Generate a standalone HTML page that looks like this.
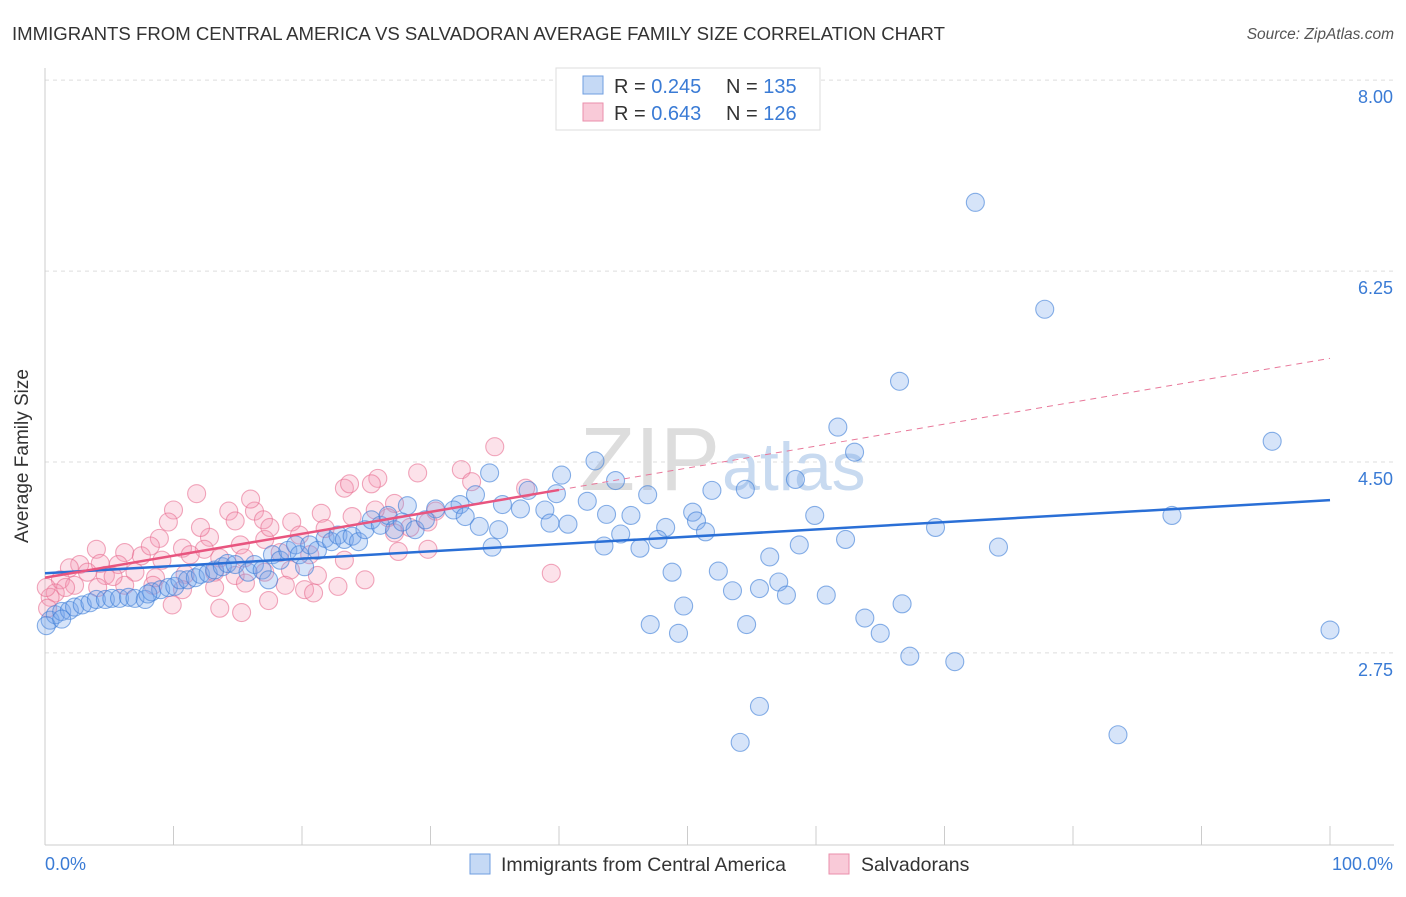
<!DOCTYPE html>
<html><head><meta charset="utf-8"><style>
body{margin:0;background:#fff;font-family:"Liberation Sans",sans-serif;}
svg text{font-family:"Liberation Sans",sans-serif;}
</style></head><body>
<svg width="1406" height="892">
<text x="12" y="40" font-size="18.6" fill="#333">IMMIGRANTS FROM CENTRAL AMERICA VS SALVADORAN AVERAGE FAMILY SIZE CORRELATION CHART</text>
<text x="1394" y="39" font-size="15.5" fill="#555" font-style="italic" text-anchor="end">Source: ZipAtlas.com</text>
<g id="grid"></g>
<text x="720" y="490" font-size="90" fill="#ddd" text-anchor="end" font-family="Liberation Serif">ZIP</text>
<text x="722" y="490" font-size="68" fill="#c8daf0">atlas</text>
<line x1="45" y1="68" x2="45" y2="845" stroke="#ccc"/>
<line x1="45" y1="845" x2="1394" y2="845" stroke="#ccc"/>
<g id="ticks"></g>
<g id="pts"></g>
<g id="lines"></g>
<text x="28" y="456" font-size="19" fill="#333" text-anchor="middle" transform="rotate(-90 28 456)">Average Family Size</text>
<text x="45" y="870" font-size="18" fill="#3a7bd5">0.0%</text>
<text x="1393" y="870" font-size="18" fill="#3a7bd5" text-anchor="end">100.0%</text>
<g>
<rect x="556" y="68" width="264" height="62" fill="#fff" stroke="#ddd"/>
<rect x="583" y="76" width="20" height="18" fill="#c5d9f5" stroke="#6f9ee0"/>
<rect x="583" y="103" width="20" height="18" fill="#f9cad8" stroke="#ea8fab"/>
<text x="614" y="93" font-size="20" fill="#333">R = <tspan fill="#3a7bd5">0.245</tspan></text>
<text x="726" y="93" font-size="20" fill="#333">N = <tspan fill="#3a7bd5">135</tspan></text>
<text x="614" y="120" font-size="20" fill="#333">R = <tspan fill="#3a7bd5">0.643</tspan></text>
<text x="726" y="120" font-size="20" fill="#333">N = <tspan fill="#3a7bd5">126</tspan></text>
</g>
<g>
<rect x="470" y="854" width="20" height="20" fill="#c5d9f5" stroke="#6f9ee0"/>
<text x="501" y="871" font-size="19.5" fill="#333">Immigrants from Central America</text>
<rect x="829" y="854" width="20" height="20" fill="#f9cad8" stroke="#ea8fab"/>
<text x="861" y="871" font-size="19.5" fill="#333">Salvadorans</text>
</g>
</svg>
<script>
const yTicks=[8.00,6.25,4.50,2.75];
const yTickLabels=["8.00","6.25","4.50","2.75"];
const xTicks=[0,10,20,30,40,50,60,70,80,90,100];
const blueX=[72.4,77.8,66.5,95.5,61.7,63.0,34.6,42.8,40.2,44.4,58.4,54.5,51.9,46.9,37.6,33.5,39.8,42.2,45.6,43.7,37.0,38.9,35.6,32.3,30.4,28.2,31.8,32.7,50.4,59.9,87.7,69.3,39.3,40.7,50.7,48.3,33.8,35.3,51.4,44.8,47.7,62.3,58.7,74.2,43.5,46.3,34.8,56.4,52.4,48.8,57.1,53.5,55.6,57.7,60.8,49.7,66.7,63.8,47.1,49.3,54.6,65.0,100,67.3,70.8,55.6,54.1,83.5,0.4,0.8,1.3,1.9,2.3,2.9,3.5,4.0,4.7,5.2,5.8,6.5,7.0,7.8,8.3,9.0,9.6,10.1,10.5,11.1,11.7,12.1,12.7,13.2,13.8,14.2,14.8,15.8,16.3,16.9,17.4,17.7,18.3,18.9,19.5,19.8,20.2,20.6,21.2,21.8,22.3,22.8,23.3,23.9,24.4,24.9,25.4,26.1,26.7,27.2,27.8,28.8,29.6,0.1,1.3,8.0];
const blueY=[6.88,5.90,5.24,4.69,4.82,4.59,4.40,4.51,4.38,4.33,4.34,4.25,4.24,4.20,4.24,4.20,4.21,4.14,4.01,4.02,4.07,4.06,4.11,4.11,4.07,4.10,4.06,4.00,4.04,4.01,4.01,3.90,3.94,3.93,3.96,3.90,3.91,3.88,3.86,3.84,3.79,3.79,3.74,3.72,3.73,3.71,3.72,3.63,3.50,3.49,3.40,3.32,3.34,3.28,3.28,3.18,3.20,3.07,3.01,2.93,3.01,2.93,2.96,2.72,2.67,2.26,1.93,2.00,3.05,3.10,3.13,3.14,3.17,3.19,3.21,3.24,3.24,3.25,3.25,3.26,3.25,3.24,3.31,3.33,3.35,3.36,3.42,3.42,3.44,3.47,3.48,3.51,3.54,3.57,3.56,3.49,3.56,3.51,3.42,3.65,3.60,3.69,3.74,3.65,3.54,3.74,3.69,3.80,3.77,3.83,3.79,3.82,3.77,3.88,3.97,3.92,4.01,3.88,3.95,3.88,3.97,3.00,3.06,3.29];
const pinkX=[35.0,32.4,29.0,25.9,25.4,23.3,23.7,33.2,37.4,11.8,10.0,14.3,16.3,14.8,17.0,19.2,21.5,23.9,27.2,26.7,9.6,8.9,12.8,10.7,12.4,15.2,17.1,19.8,21.8,28.4,29.8,25.7,27.5,29.8,4.0,6.2,7.5,4.3,2.7,5.7,9.1,11.3,13.6,15.5,18.3,20.6,23.3,1.9,3.3,4.7,7.0,8.6,10.9,13.2,14.8,17.1,19.1,21.2,39.4,1.2,2.3,4.1,6.2,8.4,10.7,13.2,15.6,18.7,20.2,22.8,24.9,0.8,0.4,0.2,9.9,13.6,15.3,17.4,20.9,0.1,1.6,5.3,8.2,12.1,17.5,27.2,30.4,16.0];
const pinkY=[4.64,4.43,4.40,4.35,4.30,4.26,4.30,4.32,4.26,4.21,4.06,4.05,4.05,3.96,3.97,3.95,4.03,4.00,4.12,3.99,3.95,3.80,3.81,3.71,3.70,3.74,3.79,3.83,3.89,3.90,3.95,4.06,3.68,3.70,3.70,3.67,3.64,3.57,3.56,3.56,3.60,3.65,3.62,3.62,3.67,3.65,3.60,3.53,3.49,3.46,3.49,3.44,3.47,3.49,3.46,3.49,3.51,3.46,3.48,3.42,3.37,3.35,3.37,3.37,3.33,3.35,3.39,3.37,3.33,3.36,3.42,3.30,3.26,3.16,3.19,3.16,3.12,3.23,3.30,3.35,3.35,3.45,3.73,3.90,3.90,3.85,4.05,4.16];
const blueLine=[3.48,4.15];
const pinkLine=[3.44,5.45];
const pinkSolidEnd=40;
const NS="http://www.w3.org/2000/svg";
function sx(p){return 45+p/100*1285;}
function sy(v){return 462-(v-4.5)*109.1;}
const grid=document.getElementById('grid'),ticks=document.getElementById('ticks'),pts=document.getElementById('pts'),lines=document.getElementById('lines');
yTicks.forEach((v,i)=>{
 const l=document.createElementNS(NS,'line');
 l.setAttribute('x1',45);l.setAttribute('x2',1394);l.setAttribute('y1',sy(v));l.setAttribute('y2',sy(v));
 l.setAttribute('stroke','#ddd');l.setAttribute('stroke-dasharray','4 4');
 
 
 grid.appendChild(l);
 const t=document.createElementNS(NS,'text');
 t.setAttribute('x',1393);t.setAttribute('y',sy(v)+23);t.setAttribute('text-anchor','end');
 t.setAttribute('font-size','18');t.setAttribute('fill','#3a7bd5');t.textContent=yTickLabels[i];
 
 
 ticks.appendChild(t);
});
xTicks.forEach(p=>{
 const l=document.createElementNS(NS,'line');
 l.setAttribute('x1',sx(p));l.setAttribute('x2',sx(p));l.setAttribute('y1',826);l.setAttribute('y2',845);
 l.setAttribute('stroke','#ccc');
 
 
 ticks.appendChild(l);
});
function dots(xs,ys,fill,stroke,name){
 xs.forEach((x,i)=>{
  const c=document.createElementNS(NS,'circle');
  c.setAttribute('cx',sx(x));c.setAttribute('cy',sy(ys[i]));c.setAttribute('r',9);
  c.setAttribute('fill',fill);c.setAttribute('stroke',stroke);c.setAttribute('stroke-width','1.1');
  
  
  pts.appendChild(c);
 });
}
dots(pinkX,pinkY,'rgba(244,150,178,0.28)','rgba(232,110,145,0.6)','salvadoran-point');
dots(blueX,blueY,'rgba(120,165,235,0.3)','rgba(60,125,215,0.6)','immigrant-point');
function line(x1,v1,x2,v2,col,w,dash,name){
 const l=document.createElementNS(NS,'line');
 l.setAttribute('x1',sx(x1));l.setAttribute('y1',sy(v1));l.setAttribute('x2',sx(x2));l.setAttribute('y2',sy(v2));
 l.setAttribute('stroke',col);l.setAttribute('stroke-width',w);if(dash)l.setAttribute('stroke-dasharray',dash);
 
 
 lines.appendChild(l);
}
const pm=pinkLine[0]+(pinkLine[1]-pinkLine[0])*pinkSolidEnd/100;
line(0,blueLine[0],100,blueLine[1],'#2a6fd6',2.5,null,'immigrant-trendline');
line(0,pinkLine[0],pinkSolidEnd,pm,'#e8557f',2.5,null,'salvadoran-trendline');
line(pinkSolidEnd,pm,100,pinkLine[1],'#e8789a',1,'6 5','salvadoran-trendline-extension');
</script>
</body></html>
